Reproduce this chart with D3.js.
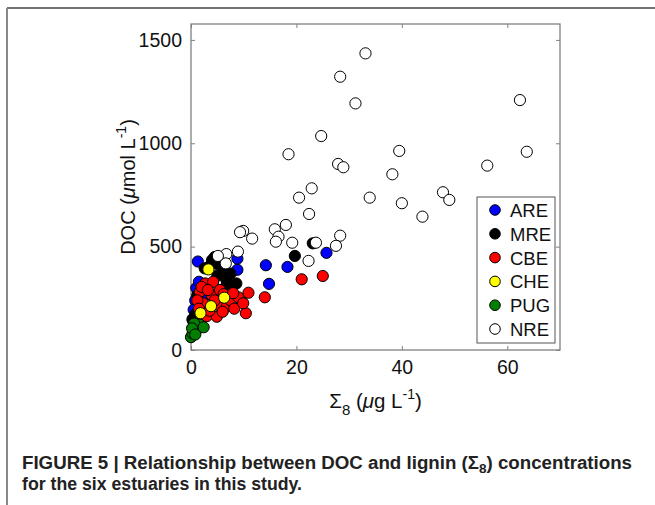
<!DOCTYPE html>
<html>
<head>
<meta charset="utf-8">
<script src="https://cdn.jsdelivr.net/npm/d3@7"></script>
<style>
  body { margin: 0; background: #fff; }
  svg { display: block; }
</style>
</head>
<body>
<div id="chart"></div>
<script>
// series, drawn in this order (later ones on top)
const seriesNames = ['ARE', 'MRE', 'CBE', 'CHE', 'PUG', 'NRE'];

// [lignin Σ8 (µg/L), DOC (µmol/L)]
const ARE = [[1.3,428],[8.8,442],[8.8,388],[0.8,240],[0.5,195],[1.0,300],[0.3,150],[0.6,105],
  [14.2,410],[18.3,402],[14.8,320],[25.7,470],[2.2,255],[1.5,330]];
const MRE = [[4.0,435],[5.3,412],[3.5,405],[2.6,395],[6.1,384],[5.0,360],[6.7,340],[8.6,322],
  [6.8,322],[7.8,305],[9.6,235],[19.7,455],[23.1,516],[0.3,145],[0.9,175],[1.2,265],[4.5,450],[7.5,370]];
const CBE = [[2.7,322],[4.2,330],[1.7,282],[3.9,266],[2.3,226],[5.2,218],[6.8,210],[7.4,242],
  [9.0,255],[10.9,277],[10.4,178],[3.0,164],[4.9,161],[14.0,255],[21.0,342],[25.0,358],[2.0,305],
  [3.2,290],[5.5,290],[6.2,270],[8.0,275],[4.5,240],[1.2,240],[6.0,185],[8.2,200],[9.9,226],[1.5,200],[3.5,190]];
const CHE = [[3.3,390],[6.3,253],[3.8,212],[1.8,178]];
const PUG = [[0.0,62],[0.3,80],[1.2,100],[1.7,122],[0.6,128],[2.4,110],[0.2,105],[0.8,75]];
const NRE = [[33.1,1435],[28.3,1322],[31.2,1193],[62.4,1209],[24.7,1035],[18.5,947],[39.5,963],
  [63.7,959],[27.9,900],[28.9,884],[56.2,892],[38.2,850],[22.9,782],[20.5,737],[33.9,737],[40.0,710],
  [47.8,763],[49.0,726],[22.4,658],[43.9,645],[18.0,605],[15.9,584],[16.6,548],[16.1,524],[11.6,539],
  [9.9,576],[9.3,570],[19.2,519],[23.7,519],[28.3,553],[27.5,504],[22.3,431],[8.9,476],[6.7,464],
  [6.6,419],[5.1,455]];

const xTicks = [0, 20, 40, 60];
const yTicks = [0, 500, 1000, 1500];

const seriesData = {ARE, MRE, CBE, CHE, PUG, NRE};
const colors = {ARE: '#0000ff', MRE: '#000000', CBE: '#ff0000', CHE: '#ffff00', PUG: '#007f00', NRE: '#ffffff'};

const W = 655, H = 505;
const PLOT = {LEFT: 191, RIGHT: 560, TOP: 24, BOTTOM: 350};
const FONT = '"Liberation Sans", Arial, sans-serif';

const svg = d3.select('#chart').append('svg')
    .attr('width', W)
    .attr('height', H)
    .style('font-family', FONT);

// page frame lines
svg.append('line').attr('x1', 7).attr('x2', W).attr('y1', 8).attr('y2', 8)
    .attr('stroke', '#444').attr('stroke-width', 1.5);
svg.append('line').attr('x1', 7).attr('x2', 7).attr('y1', 8).attr('y2', H)
    .attr('stroke', '#888').attr('stroke-width', 2);

const x = d3.scaleLinear().domain([0, 70]).range([PLOT.LEFT, PLOT.RIGHT]);
const y = d3.scaleLinear().domain([0, 1577]).range([PLOT.BOTTOM, PLOT.TOP]);

const axisColor = '#808080';

function styleAxis(g) {
    g.select('.domain').remove();
    g.selectAll('.tick line').attr('stroke', axisColor);
    g.selectAll('.tick text').attr('fill', '#111').style('font-size', '19.5px').style('font-family', FONT);
}

svg.append('g')
    .attr('transform', `translate(0,${PLOT.BOTTOM})`)
    .call(d3.axisBottom(x).tickValues(xTicks).tickFormat(d3.format('d'))
        .tickSizeInner(-4).tickSizeOuter(0).tickPadding(10))
    .call(styleAxis);
svg.append('g')
    .attr('transform', `translate(0,${PLOT.TOP})`)
    .call(d3.axisTop(x).tickValues(xTicks).tickSizeInner(-4).tickSizeOuter(0).tickFormat(''))
    .call(styleAxis);
svg.append('g')
    .attr('transform', `translate(${PLOT.LEFT},0)`)
    .call(d3.axisLeft(y).tickValues(yTicks).tickFormat(d3.format('d'))
        .tickSizeInner(-4).tickSizeOuter(0).tickPadding(9))
    .call(styleAxis);
svg.append('g')
    .attr('transform', `translate(${PLOT.RIGHT},0)`)
    .call(d3.axisRight(y).tickValues(yTicks).tickSizeInner(-4).tickSizeOuter(0).tickFormat(''))
    .call(styleAxis);

// axes box
svg.append('rect')
    .attr('x', PLOT.LEFT).attr('y', PLOT.TOP)
    .attr('width', PLOT.RIGHT - PLOT.LEFT).attr('height', PLOT.BOTTOM - PLOT.TOP)
    .attr('fill', 'none').attr('stroke', axisColor).attr('stroke-width', 1.3);

// points
const R = 5.6;
seriesNames.forEach(name => {
    svg.append('g').selectAll('circle')
        .data(seriesData[name])
        .join('circle')
            .attr('cx', d => x(d[0]))
            .attr('cy', d => y(d[1]))
            .attr('r', R)
            .attr('fill', colors[name])
            .attr('stroke', '#000')
            .attr('stroke-width', 1);
});

// axis labels
const xl = svg.append('text')
    .attr('x', (PLOT.LEFT + PLOT.RIGHT) / 2)
    .attr('y', 408)
    .attr('text-anchor', 'middle')
    .attr('fill', '#111')
    .style('font-size', '20.5px');
xl.append('tspan').text('Σ');
xl.append('tspan').attr('dy', 7).style('font-size', '15px').text('8');
xl.append('tspan').attr('dy', -7).text(' (');
xl.append('tspan').style('font-style', 'italic').text('μ');
xl.append('tspan').text('g L');
xl.append('tspan').attr('dy', -9).style('font-size', '14px').text('-1');
xl.append('tspan').attr('dy', 9).text(')');

const yl = svg.append('text')
    .attr('transform', `translate(135,${(PLOT.TOP + PLOT.BOTTOM) / 2}) rotate(-90)`)
    .attr('text-anchor', 'middle')
    .attr('fill', '#111')
    .style('font-size', '20px');
yl.append('tspan').text('DOC (');
yl.append('tspan').style('font-style', 'italic').text('μ');
yl.append('tspan').text('mol L');
yl.append('tspan').attr('dy', -9).style('font-size', '14px').text('-1');
yl.append('tspan').attr('dy', 9).text(')');

// legend
const legend = svg.append('g').attr('transform', 'translate(477,197)');
legend.append('rect')
    .attr('width', 78).attr('height', 146)
    .attr('fill', '#fff').attr('stroke', '#555').attr('stroke-width', 1);
seriesNames.forEach((name, i) => {
    const row = legend.append('g').attr('transform', `translate(0,${13 + i * 23.8})`);
    row.append('circle')
        .attr('cx', 18).attr('r', 5.3)
        .attr('fill', colors[name]).attr('stroke', '#000').attr('stroke-width', 1);
    row.append('text')
        .attr('x', 33).attr('y', 7)
        .attr('fill', '#111')
        .style('font-size', '18.5px')
        .text(name);
});

// caption
const cap1 = svg.append('text')
    .attr('x', 22).attr('y', 469)
    .attr('fill', '#222')
    .attr('textLength', 610).attr('lengthAdjust', 'spacingAndGlyphs')
    .style('font-size', '18px').style('font-weight', 'bold');
cap1.append('tspan').text('FIGURE 5 | Relationship between DOC and lignin (Σ');
cap1.append('tspan').attr('dy', 4).style('font-size', '13px').text('8');
cap1.append('tspan').attr('dy', -4).text(') concentrations');

svg.append('text')
    .attr('x', 22).attr('y', 490)
    .attr('fill', '#222')
    .attr('textLength', 280).attr('lengthAdjust', 'spacingAndGlyphs')
    .style('font-size', '18px').style('font-weight', 'bold')
    .text('for the six estuaries in this study.');
</script>
</body>
</html>
